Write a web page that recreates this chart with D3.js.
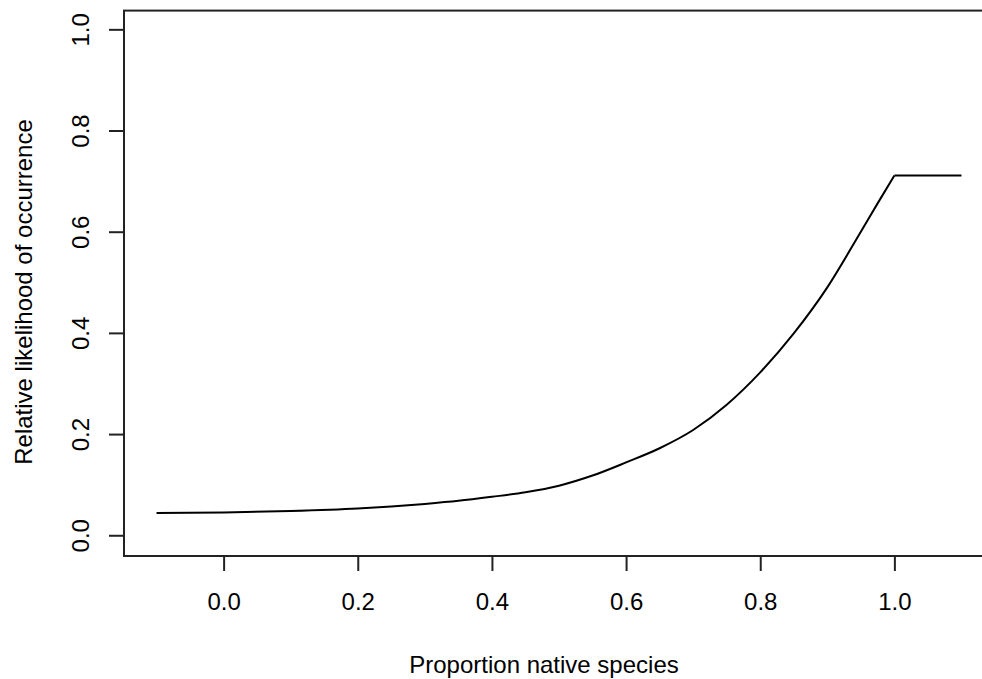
<!DOCTYPE html>
<html>
<head>
<meta charset="utf-8">
<script src="https://cdn.jsdelivr.net/npm/d3@7"></script>
<style>
  body { margin: 0; background: #fff; }
  text { font-family: "Liberation Sans", Arial, sans-serif; fill: #000; }
</style>
</head>
<body>
<svg id="chart" width="982" height="679"></svg>
<script>
// curve values
var xValues = [-0.1, 0.0, 0.1, 0.2, 0.25, 0.3, 0.35, 0.4, 0.45, 0.5, 0.55, 0.6, 0.65, 0.7, 0.75, 0.8, 0.85, 0.9, 0.95, 0.975, 1.0];
var yValues = [0.044, 0.045, 0.048, 0.053, 0.057, 0.062, 0.068, 0.076, 0.085, 0.098, 0.118, 0.144, 0.172, 0.208, 0.258, 0.322, 0.399, 0.49, 0.6, 0.656, 0.711];

// flat part after 1.0
var plateauX = [1.0, 1.1];
var plateauY = [0.711, 0.711];

var xTicks = [0.0, 0.2, 0.4, 0.6, 0.8, 1.0];
var yTicks = [0.0, 0.2, 0.4, 0.6, 0.8, 1.0];

var xTitle = "Proportion native species";
var yTitle = "Relative likelihood of occurrence";

var svg = d3.select("#chart");

// R style: axis range is data range + 4%
var x = d3.scaleLinear().domain([-0.1485, 1.1485]).range([124, 994]);
var y = d3.scaleLinear().domain([-0.04, 1.04]).range([555.5, 9.1]);

var curve = d3.line()
    .x(function(d, i) { return x(xValues[i]); })
    .y(function(d) { return y(d); })
    .curve(d3.curveMonotoneX);

var flat = d3.line()
    .x(function(d, i) { return x(plateauX[i]); })
    .y(function(d) { return y(d); });

// the curve
svg.append("path")
    .datum(yValues)
    .attr("d", curve)
    .attr("fill", "none")
    .attr("stroke", "#000")
    .attr("stroke-width", 2);

svg.append("path")
    .datum(plateauY)
    .attr("d", flat)
    .attr("fill", "none")
    .attr("stroke", "#000")
    .attr("stroke-width", 2);

// plot box
svg.append("rect")
    .attr("x", x.range()[0])
    .attr("y", y.range()[1] + 1.5)
    .attr("width", x.range()[1] - x.range()[0])
    .attr("height", y.range()[0] - y.range()[1] - 1)
    .attr("fill", "none")
    .attr("stroke", "#222")
    .attr("stroke-width", 2);

// x axis (no domain line, the box does that)
var xAxis = svg.append("g")
    .attr("transform", "translate(0,556)")
    .call(d3.axisBottom(x).tickValues(xTicks).tickSize(15).tickPadding(22)
        .tickFormat(d3.format(".1f")));
xAxis.select(".domain").remove();
xAxis.selectAll("line").attr("stroke", "#222").attr("stroke-width", 2);
xAxis.selectAll("text").style("font-size", "24px").attr("fill", "#111");

// y axis, labels turned like R does
var yAxis = svg.append("g")
    .attr("transform", "translate(124,0)")
    .call(d3.axisLeft(y).tickValues(yTicks).tickSize(15).tickFormat(d3.format(".1f")));
yAxis.select(".domain").remove();
yAxis.selectAll("line").attr("stroke", "#222").attr("stroke-width", 2);
yAxis.selectAll("text")
    .attr("x", null).attr("dy", null)
    .attr("transform", "translate(-35,0) rotate(-90)")
    .attr("text-anchor", "middle")
    .style("font-size", "24px")
    .attr("fill", "#111");

// axis titles
svg.append("text")
    .attr("x", 544)
    .attr("y", 673)
    .attr("text-anchor", "middle")
    .style("font-size", "24px")
    .attr("fill", "#222")
    .text(xTitle);

svg.append("text")
    .attr("transform", "translate(32,292) rotate(-90)")
    .attr("text-anchor", "middle")
    .style("font-size", "24px")
    .attr("fill", "#222")
    .text(yTitle);
</script>
</body>
</html>
